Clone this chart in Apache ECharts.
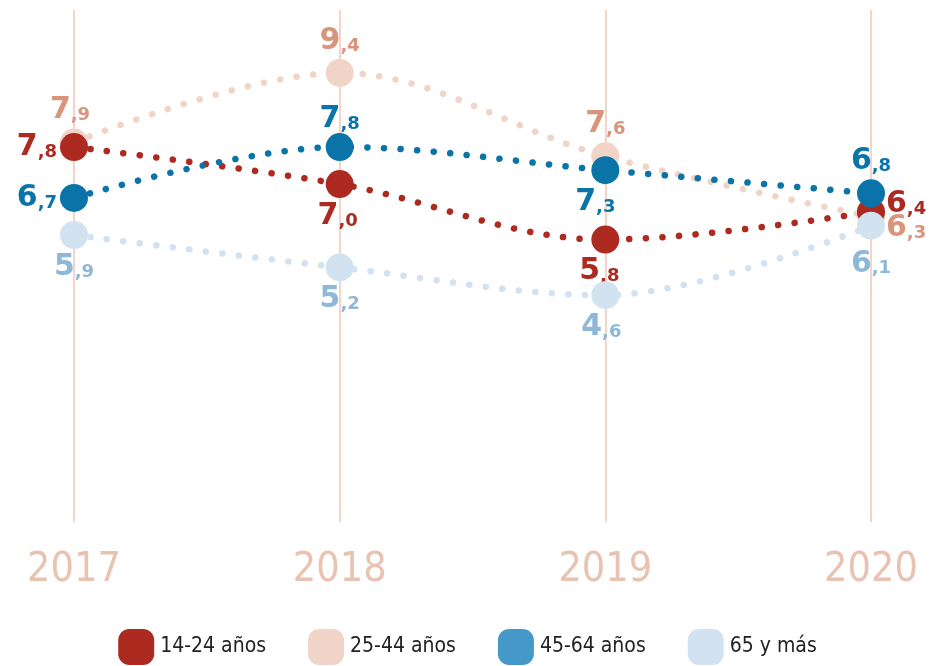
<!DOCTYPE html>
<html>
<head>
<meta charset="utf-8">
<script src="https://cdn.jsdelivr.net/npm/echarts@6/dist/echarts.min.js"></script>
<style>
  html, body { margin: 0; padding: 0; background: #fff; }
  #chart { width: 935px; height: 666px; }
</style>
</head>
<body>
<div id="chart"></div>
<script>
/* ---------- datos ---------- */
const years = ['2017', '2018', '2019', '2020'];
const seriesNames = ['14-24 años', '25-44 años', '45-64 años', '65 y más'];
const v1424 = [7.8, 7.0, 5.8, 6.4];
const v2544 = [7.9, 9.4, 7.6, 6.3];
const v4564 = [6.7, 7.8, 7.3, 6.8];
const v65 = [5.9, 5.2, 4.6, 6.1];

/* ---------- estilo ---------- */
const lineColors = ['#ad2a20', '#efd4c7', '#0a74a8', '#d2e2f0'];
const labelColors = ['#ad2a20', '#d9957b', '#0a74a8', '#8fb8d8'];
const legendColors = ['#ad2a20', '#efd4c7', '#4499c8', '#d2e2f0'];
const zOrder = [3, 2, 5, 4];

// [posición, dx, dy] para cada etiqueta
const labelPlaces = [
  [['left', 0, 0], ['bottom', -2, 0], ['bottom', -6, 0], ['right', -2, -8]],
  [['top', -4, 0], ['top', 0, 0], ['top', 0, 0], ['right', -2, 12]],
  [['left', 0, 0], ['top', 0, 4], ['bottom', -10, 0], ['top', 0, 0]],
  [['bottom', 0, 0], ['bottom', 0, 0], ['bottom', -4, 0], ['bottom', 0, 6]],
];

const narrow = '"Liberation Sans Narrow", "DejaVu Sans Condensed", sans-serif';
const bold = '"DejaVu Sans", sans-serif';
const legendIcon = 'path://M12,0 H26 A12,12 0 0 1 38,12 V26 A12,12 0 0 1 26,38 H12 A12,12 0 0 1 0,26 V12 A12,12 0 0 1 12,0 Z';

function fmt(p) {
  const parts = p.value.toFixed(1).split('.');
  return '{a|' + parts[0] + '}{b|,' + parts[1] + '}';
}

function makeSeries(name, values, i) {
  return {
    name: name,
    type: 'line',
    smooth: 0.35,
    z: zOrder[i],
    symbol: 'circle',
    symbolSize: 28,
    itemStyle: { color: lineColors[i] },
    lineStyle: { color: lineColors[i], width: 6.5, type: [0.1, 16.5], cap: 'round' },
    label: {
      show: true,
      formatter: fmt,
      distance: 3,
      rich: {
        a: { fontFamily: bold, fontWeight: 'bold', fontSize: 30, color: labelColors[i], lineHeight: 30 },
        b: { fontFamily: bold, fontWeight: 'bold', fontSize: 18, color: labelColors[i], lineHeight: 30, verticalAlign: 'bottom', padding: [0, 0, 1, 0] },
      },
    },
    data: values.map((v, j) => ({
      value: v,
      label: { position: labelPlaces[i][j][0], offset: [labelPlaces[i][j][1], labelPlaces[i][j][2]] },
    })),
  };
}

const chart = echarts.init(document.getElementById('chart'));
chart.setOption({
  animation: false,
  grid: { left: 74, right: 64, top: 10, bottom: 144 },
  legend: {
    top: 624,
    left: 'center',
    icon: legendIcon,
    itemWidth: 38,
    itemHeight: 36,
    itemGap: 42,
    textStyle: { fontFamily: narrow, fontSize: 21, color: '#222' },
    data: seriesNames.map((n, i) => ({ name: n, itemStyle: { color: legendColors[i] } })),
  },
  xAxis: {
    type: 'category',
    data: years,
    boundaryGap: false,
    axisLine: { show: false },
    axisTick: { show: false },
    splitLine: { show: true, lineStyle: { color: '#f2d5c7', width: 2 } },
    axisLabel: { margin: 28, fontFamily: narrow, fontSize: 41, color: '#e9c3b1' },
  },
  yAxis: {
    type: 'value',
    min: -0.3,
    max: 10.76,
    show: false,
    splitLine: { show: false },
  },
  series: [
    makeSeries(seriesNames[0], v1424, 0),
    makeSeries(seriesNames[1], v2544, 1),
    makeSeries(seriesNames[2], v4564, 2),
    makeSeries(seriesNames[3], v65, 3),
  ],
});
</script>
</body>
</html>
